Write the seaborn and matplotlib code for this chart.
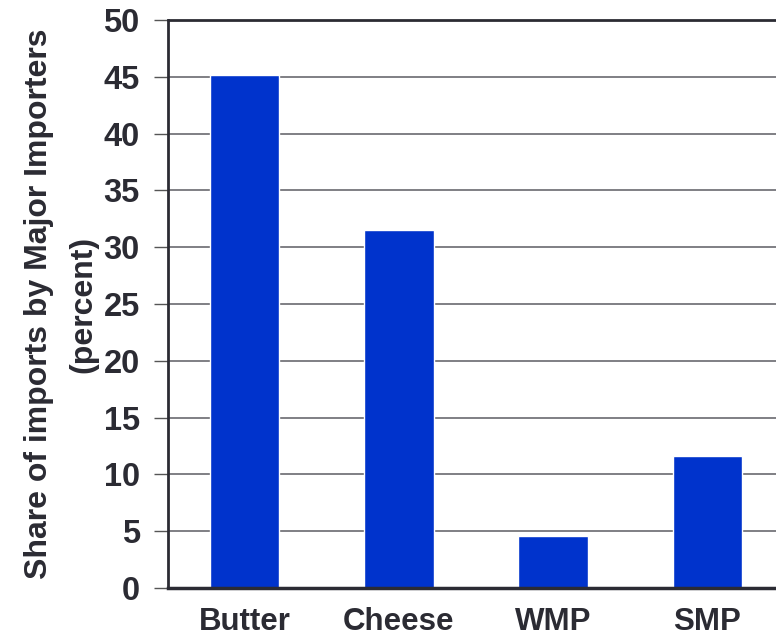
import matplotlib
matplotlib.use('Agg')
import matplotlib.pyplot as plt
import pandas as pd
import numpy as np
import seaborn as sns

# Dados
produtos = ['Butter', 'Cheese', 'WMP', 'SMP']
participacao = [45.2, 31.5, 4.6, 11.6]

df = pd.DataFrame({'Produto': produtos, 'Share': participacao})

sns.set_style('white')
plt.rcParams['font.family'] = ['Liberation Sans', 'DejaVu Sans']
plt.rcParams['font.weight'] = 'bold'

texto = '#2b2b33'

fig = plt.figure(figsize=(7.76, 6.41), dpi=100)
ax = fig.add_axes([167.5 / 776, 1 - 588 / 641, 617 / 776, 568 / 641])

sns.barplot(data=df, x='Produto', y='Share', color='#0033CC', saturation=1,
            width=0.45, ax=ax, zorder=3)

ax.set_ylim(0, 50)
ax.set_xlim(-0.5, 3.5)
ax.set_yticks(np.arange(0, 51, 5))
ax.yaxis.grid(True, color='#6a6a70', linewidth=1.2, zorder=0)
ax.set_axisbelow(True)

ax.tick_params(axis='y', labelsize=23.5, labelcolor=texto, length=10, width=1,
               color='#555555', direction='out', pad=10, left=True)
ax.tick_params(axis='x', which='major', labelsize=22.5, labelcolor=texto, length=0, pad=14)
ax.set_xticks(np.arange(-0.5, 4, 1), minor=True)
ax.tick_params(axis='x', which='minor', length=10, width=1, color='#555555', direction='out')
for lbl in ax.get_xticklabels() + ax.get_yticklabels():
    lbl.set_fontweight('bold')

ax.set_xlabel('')
ax.set_ylabel('Share of imports by Major Importers\n(percent)', fontsize=23,
              fontweight='bold', color=texto, labelpad=4, linespacing=1.6)

for s in ['top', 'right']:
    ax.spines[s].set_visible(False)
ax.spines['left'].set_color('#2b2b33')
ax.spines['left'].set_linewidth(2)
ax.spines['bottom'].set_color('#2b2b33')
ax.spines['bottom'].set_linewidth(2.5)
ax.spines['bottom'].set_zorder(4)

# linha superior em 50
ax.axhline(50, color='#2b2b33', linewidth=2, zorder=4, clip_on=False)

plt.savefig('out.png', dpi=100)
plt.close()
